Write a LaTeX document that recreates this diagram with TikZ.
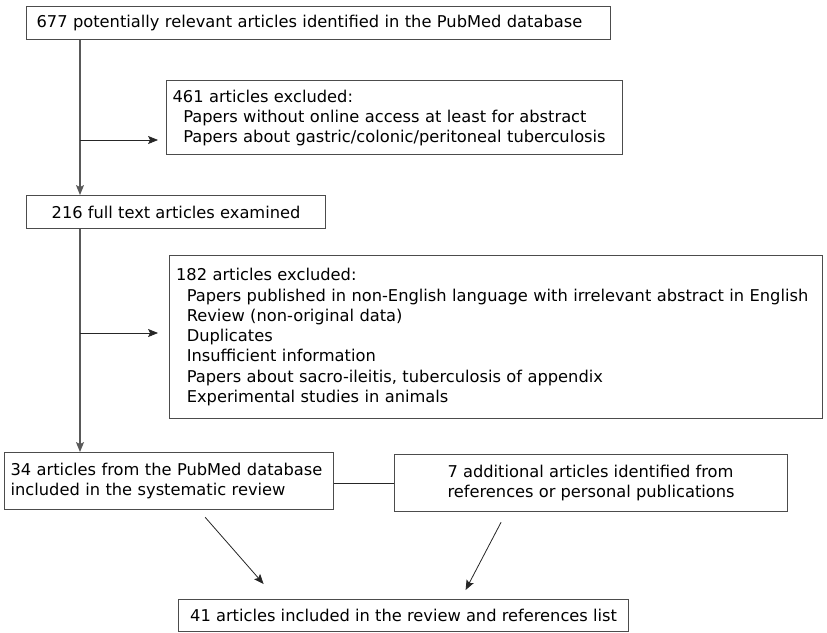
\documentclass[tikz,border=0pt]{standalone}
\usepackage{fontspec}
\setmainfont{DejaVu Sans}
\usetikzlibrary{arrows.meta,positioning,calc}
\tikzset{
  flowbox/.style={draw=black!70,line width=0.9pt,inner sep=0pt,
    font=\fontsize{12.2}{15}\selectfont},
  listbox/.style={flowbox,align=left,font=\fontsize{12.2}{15.2}\selectfont},
  spineline/.style={draw=black!65,line width=1pt},
  flowline/.style={draw=black!85,line width=0.6pt},
  flowarrow/.style={flowline,-{Stealth[length=2.6mm,width=2.1mm,inset=0.5mm]}}
}

\begin{document}
\begin{tikzpicture}[x=0.75pt,y=-0.75pt]
  \useasboundingbox (0,0) rectangle (827,632);
  % boxes (positions in pixels of the original figure)
  \node[flowbox,anchor=north west,minimum width=438pt,minimum height=24.75pt,
    text width=423pt,align=left] (found) at (26,6)
    {677 potentially relevant articles identified in the PubMed database};
  \node[flowbox,anchor=north west,minimum width=342pt,minimum height=55.5pt,
    text width=333pt,align=left] (excl1) at (166,80)
    {461 articles excluded:\\
     \hspace*{8pt}Papers without online access at least for abstract\\
     \hspace*{8pt}Papers about gastric/colonic/peritoneal tuberculosis};
  \node[flowbox,anchor=north west,minimum width=224.25pt,minimum height=24.75pt] (full) at (26,195)
    {216 full text articles examined};
  \node[listbox,anchor=north west,minimum width=489.75pt,minimum height=122.25pt,
    text width=480pt] (excl2) at (169,255)
    {182 articles excluded:\\
     \hspace*{8pt}Papers published in non-English language with irrelevant abstract in English\\
     \hspace*{8pt}Review (non-original data)\\
     \hspace*{8pt}Duplicates\\
     \hspace*{8pt}Insufficient information\\
     \hspace*{8pt}Papers about sacro-ileitis, tuberculosis of appendix\\
     \hspace*{8pt}Experimental studies in animals};
  \node[listbox,anchor=north west,minimum width=246.75pt,minimum height=42.75pt,
    text width=237.75pt] (pubmed) at (4,452)
    {34 articles from the PubMed database\\included in the systematic review};
  \node[listbox,anchor=north west,minimum width=294.75pt,minimum height=42.75pt] (extra) at (394,454)
    {7 additional articles identified from\\references or personal publications};
  \node[flowbox,anchor=north west,minimum width=337.5pt,minimum height=24pt] (final) at (178,599)
    {41 articles included in the review and references list};

  % connectors
  \coordinate (spine) at (80,0);
  \coordinate (branch1) at (80,140);
  \coordinate (branch2) at (80,333);
  \draw[spineline,-{Stealth[length=2.6mm,width=2.1mm,inset=0.5mm]}]
    (found.south -| spine) -- (full.north -| spine);
  \draw[spineline,-{Stealth[length=2.6mm,width=2.1mm,inset=0.5mm]}]
    (full.south -| spine) -- (pubmed.north -| spine);
  \draw[flowarrow,shorten >=6pt] (branch1) -- (branch1 -| excl1.west);
  \draw[flowarrow,shorten >=8.25pt] (branch2) -- (branch2 -| excl2.west);
  \draw[flowline] (extra.west -| pubmed.east) -- (extra.west);
  \draw[flowarrow] ($(pubmed.south)+(36,7)$) -- ($(final.north)+(-140,-15)$);
  \draw[flowarrow] ($(extra.south)+(-90,10)$) -- ($(final.north)+(62,-9)$);
\end{tikzpicture}
\end{document}
